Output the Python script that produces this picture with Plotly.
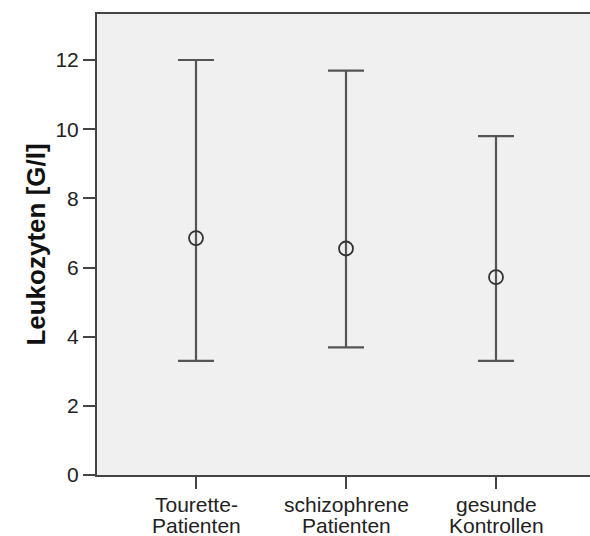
import plotly.graph_objects as go

label_line1 = ["Tourette-", "schizophrene", "gesunde"]
label_line2 = ["Patienten", "Patienten", "Kontrollen"]
means = [6.85, 6.55, 5.72]
upper = [12.0, 11.69, 9.80]
lower = [3.30, 3.69, 3.30]
y_ticks = [0, 2, 4, 6, 8, 10, 12]

x_pos = list(range(len(label_line1)))
err_plus = [u - m for u, m in zip(upper, means)]
err_minus = [m - l for m, l in zip(means, lower)]

fig = go.Figure()
fig.add_trace(go.Scatter(
    x=x_pos, y=means, mode="markers",
    marker=dict(symbol="circle-open", size=14, color="#333333", line=dict(width=1.8)),
    error_y=dict(type="data", symmetric=False, array=err_plus, arrayminus=err_minus,
                 color="#555555", thickness=2.2, width=18),
    showlegend=False, hoverinfo="skip",
))

font_family = "Liberation Sans, Arial, sans-serif"
W, H = 590, 536
ML, MT, MB = 97, 14, 61
plot_w = W - ML
x0 = -0.66
x1 = x0 + plot_w / 150.0

for i, (a, b) in enumerate(zip(label_line1, label_line2)):
    fig.add_annotation(x=i, y=0, xref="x", yref="paper", text=a, showarrow=False,
                       yanchor="top", yshift=-16, font=dict(size=21, family=font_family, color="#222222"))
    fig.add_annotation(x=i, y=0, xref="x", yref="paper", text=b, showarrow=False,
                       yanchor="top", yshift=-37, font=dict(size=21, family=font_family, color="#222222"))

fig.update_layout(
    width=W, height=H,
    margin=dict(l=ML, r=0, t=MT, b=MB),
    paper_bgcolor="white", plot_bgcolor="#f0f0f0",
    font=dict(family=font_family, size=21, color="#222222"),
    xaxis=dict(
        range=[x0, x1], tickmode="array", tickvals=x_pos, showticklabels=False,
        showgrid=False, zeroline=False, showline=True, linecolor="#444444", linewidth=2,
        mirror=True, ticks="outside", ticklen=12, tickwidth=2, tickcolor="#444444",
    ),
    yaxis=dict(
        range=[0, 13.33], tickmode="array", tickvals=y_ticks,
        showgrid=False, zeroline=False, showline=True, linecolor="#444444", linewidth=2,
        ticks="outside", ticklen=12, tickwidth=2, tickcolor="#444444",
        tickfont=dict(size=21, family=font_family, color="#222222"),
        title=dict(text="<b>Leukozyten [G/l]</b>", font=dict(size=26, family=font_family, color="#111111"), standoff=2),
        automargin=False,
    ),
)

fig.write_html("out.html", config={"displayModeBar": False},
               post_script="document.body.style.margin='0';document.body.style.overflow='hidden';")
